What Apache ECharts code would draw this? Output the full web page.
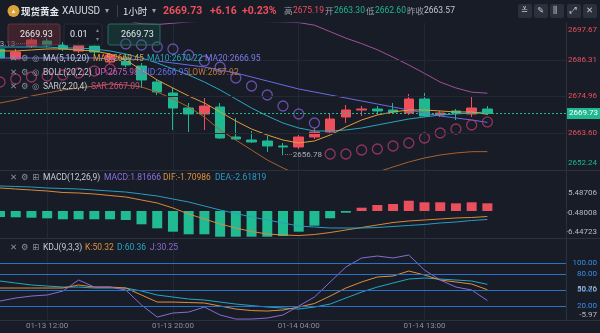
<!DOCTYPE html>
<html><head><meta charset="utf-8">
<script src="https://cdn.jsdelivr.net/npm/echarts@6/dist/echarts.min.js"></script>
<style>html,body{margin:0;padding:0;background:#171c27;}#c{width:600px;height:333px;}</style>
</head><body><div id="c"></div>
<script>
const categories = ['01-13 09:00','01-13 10:00','01-13 11:00','01-13 12:00','01-13 13:00','01-13 14:00','01-13 15:00','01-13 16:00','01-13 17:00','01-13 18:00','01-13 19:00','01-13 20:00','01-13 21:00','01-13 22:00','01-13 23:00','01-14 00:00','01-14 01:00','01-14 02:00','01-14 03:00','01-14 04:00','01-14 05:00','01-14 07:00','01-14 08:00','01-14 09:00','01-14 10:00','01-14 11:00','01-14 12:00','01-14 13:00','01-14 14:00','01-14 15:00','01-14 16:00','01-14 17:00','01-14 18:00','01-14 19:00','01-14 20:00','01-14 21:00','01-14 22:00'];
const xTickLabels = ['01-13 12:00','01-13 20:00','01-14 04:00','01-14 13:00'];

const opens  = [2689.64,2686.55,2690.56,2692.10,2690.87,2689.02,2690.56,2685.62,2686.85,2684.38,2679.44,2676.04,2671.40,2669.55,2671.71,2662.44,2661.51,2661.21,2659.66,2659.35,2662.44,2663.99,2668.62,2670.78,2671.09,2670.78,2669.86,2674.18,2669.24,2670.48,2669.55,2671.09];
const closes = [2686.85,2688.71,2692.41,2690.87,2689.64,2690.87,2688.71,2687.78,2684.69,2680.06,2676.35,2671.40,2669.55,2672.02,2662.13,2661.82,2660.90,2659.66,2659.35,2662.44,2663.99,2668.00,2670.78,2671.09,2670.48,2670.17,2674.18,2668.93,2669.86,2669.86,2671.40,2669.73];
const lows   = [2686.24,2685.93,2689.94,2690.25,2689.02,2688.40,2688.09,2685.00,2684.00,2677.58,2675.42,2664.60,2663.99,2664.60,2661.82,2661.51,2660.59,2657.81,2656.78,2658.73,2661.82,2663.68,2666.77,2668.93,2669.24,2669.55,2669.24,2668.62,2668.62,2667.69,2668.62,2669.24];
const highs  = [2690.56,2689.64,2693.13,2692.90,2691.80,2692.00,2691.50,2688.40,2687.78,2685.31,2680.36,2677.58,2672.95,2674.49,2672.95,2668.31,2664.30,2662.75,2660.59,2663.06,2665.22,2669.86,2672.33,2672.02,2672.02,2672.95,2675.73,2676.04,2670.48,2671.09,2674.80,2672.02];

const ma5  = [2689.02,2689.02,2689.33,2689.64,2689.64,2689.33,2689.02,2688.09,2686.24,2683.15,2680.06,2677.58,2675.11,2672.95,2670.17,2667.39,2664.91,2663.06,2661.51,2660.59,2661.21,2663.06,2665.53,2667.70,2669.24,2670.17,2670.79,2670.79,2670.48,2670.17,2670.17,2669.45];
const ma10 = [2690.25,2690.25,2690.25,2690.25,2689.94,2689.94,2689.64,2689.02,2688.09,2686.85,2685.31,2683.46,2681.60,2679.44,2676.97,2674.18,2671.40,2668.93,2666.77,2665.22,2664.30,2664.30,2664.61,2665.22,2666.15,2667.08,2668.00,2668.62,2669.24,2669.55,2669.86,2670.22];
const ma20 = [2686.85,2686.85,2686.85,2686.85,2686.85,2686.85,2686.85,2686.55,2686.55,2686.24,2685.93,2685.31,2684.69,2684.07,2683.15,2682.22,2680.98,2679.75,2678.51,2677.27,2676.35,2675.42,2674.49,2673.57,2672.64,2671.71,2670.79,2669.86,2668.93,2668.31,2667.70,2666.95];
const bollUp  = [2703.0,2703.2,2703.0,2702.6,2702.0,2701.4,2700.8,2700.2,2698.5,2697.4,2697.2,2697.6,2698.0,2698.2,2698.3,2698.3,2698.2,2698.1,2698.0,2697.8,2697.0,2695.0,2693.0,2691.3,2689.4,2687.1,2684.7,2682.1,2679.4,2677.6,2676.3,2675.98];
const bollLow = [2672.95,2673.88,2675.11,2676.04,2676.97,2677.58,2678.20,2678.82,2678.51,2677.89,2676.35,2674.18,2671.71,2668.62,2664.60,2661.51,2658.42,2655.33,2652.86,2650.70,2649.15,2648.54,2648.85,2649.77,2651.63,2653.17,2654.72,2655.95,2656.88,2657.50,2657.90,2657.92];
const sarBelow = [2679.44,2680.37,2680.98,2681.29,2681.60,2682.22,2682.84,2683.46,null,null,null,null,null,null,null,null,null,null,null,null,null,2657.19,2657.19,2658.42,2658.73,2659.66,2660.59,2662.13,2663.68,2664.91,2666.15,2667.09];
const sarAbove = [null,null,null,null,null,null,null,null,2691.20,2690.87,2690.25,2689.64,2687.78,2685.93,2684.07,2680.67,2678.20,2675.42,2672.02,2669.55,2666.77,null,null,null,null,null,null,null,null,null,null,null];

const macdHist = [-1.86,-1.95,-2.07,-2.26,-2.57,-2.57,-2.57,-2.57,-2.78,-4.11,-5.35,-6.40,-7.20,-7.20,-7.95,-7.95,-7.95,-7.95,-7.73,-6.40,-4.55,-2.26,-0.53,1.02,1.86,2.16,3.18,2.69,2.69,2.38,2.69,2.38];
const dif = [7.11,6.80,6.49,6.18,5.72,5.57,5.26,4.79,4.33,3.40,2.47,0.93,-0.93,-2.47,-4.02,-5.26,-6.34,-7.11,-7.42,-7.58,-7.27,-6.65,-5.88,-5.10,-4.33,-3.56,-3.09,-2.78,-2.47,-2.16,-2.01,-1.71];
const dea = [7.73,7.58,7.42,7.11,6.96,6.80,6.49,6.18,5.87,5.26,4.64,3.71,2.78,1.55,0.31,-0.77,-1.86,-2.78,-3.71,-4.64,-4.95,-5.26,-5.26,-5.26,-5.10,-4.79,-4.48,-4.17,-3.71,-3.40,-2.94,-2.62];

const kValues = [53.5,53.5,53.5,53.5,53.5,59.1,55.3,55.3,53.5,40.5,27.4,27.4,26.5,25.6,20.0,14.4,11.6,10.7,12.6,18.1,24.7,38.6,53.5,64.7,74.0,75.8,85.1,77.7,68.4,64.7,60.9,50.32];
const dValues = [66.5,62.8,59.1,57.2,55.3,55.3,53.5,53.5,53.5,47.9,40.5,36.7,33.0,31.2,27.4,23.7,20.9,18.1,16.3,14.4,18.1,23.7,34.9,46.0,55.3,62.8,70.2,72.1,70.2,68.4,66.5,60.36];
const jValues = [29.3,34.9,38.6,40.5,47.9,68.4,55.3,55.3,49.8,21.9,-0.5,7.0,8.8,18.1,3.3,-4.2,-4.2,-2.3,3.3,20.0,36.7,64.7,92.6,109.3,113.0,109.3,114.9,87.0,68.4,55.3,49.8,30.25];

const priceTicks = [2652.24,2663.60,2674.96,2686.31,2697.67];
const priceTickLabels = ['2652.24','2663.60','2674.96','2686.31','2697.67'];
const macdTicks = [-6.44723,-0.48008,5.48706];
const macdTickLabels = ['-6.44723','-0.48008','5.48706'];
const kdjTicks = [-5.97,20,50,50.76,80,100,100.49];
const kdjTickLabels = ['-5.97','20.00','50.00','50.76','80.00','100.00','100.49'];
const kdjLevels = [20,50,80,100];

const lastPrice = 2669.73, prevClose = 2663.57, lowMark = 2656.78, highMark = 2693.13;

const RED = '#ee4f5c', GREEN = '#1fb890', FONT = 'Roboto';
const candleData = opens.map((o,i) => [o, closes[i], lows[i], highs[i]]);

function priceLabel(v){
  const i = priceTicks.findIndex(t => Math.abs(t - v) < 1e-6);
  const up = v >= prevClose;
  let k = up ? 'r' : 'g';
  if (i === priceTicks.length - 1) k += 't';
  if (i === 0) k += 'b';
  return '{' + k + '|' + priceTickLabels[i] + '}';
}
function kdjLabel(v){
  const i = kdjTicks.findIndex(t => Math.abs(t - v) < 1e-6);
  let k = kdjLevels.indexOf(v) >= 0 ? 'bl' : 'gr';
  if (i === 0) k = 'grb';
  return '{' + k + '|' + kdjTickLabels[i] + '}';
}
const lab = (c, extra) => Object.assign({color:c, fontSize:8, fontFamily:FONT}, extra||{});

const grids = [
  {left:0, top:23, width:566, height:147},
  {left:0, top:172, width:566, height:66},
  {left:0, top:240, width:566, height:80}
];
const xAxes = [0,1,2].map(g => ({
  type:'category', gridIndex:g, data:categories, boundaryGap:false,
  axisLine:{show:false}, axisTick:{show:false},
  axisLabel: g===2 ? {show:true, interval:(i,v)=>xTickLabels.indexOf(v)>=0, color:'#8a8f9a', fontSize:8, fontFamily:FONT, margin:2} : {show:false},
  splitLine:{show:true, interval:(i,v)=>xTickLabels.indexOf(v)>=0, lineStyle:{color:'#222835', width:1}}
}));
const yAxes = [
  {type:'value', gridIndex:0, position:'right', min:2652.24, max:2697.67,
   axisLine:{show:false}, axisTick:{show:false, customValues:priceTicks}, splitLine:{show:false},
   axisLabel:{customValues:priceTicks, align:'right', margin:31, formatter:priceLabel,
     rich:{r:lab(RED), g:lab(GREEN), rt:lab(RED,{padding:[13,0,0,0]}), gt:lab(GREEN,{padding:[13,0,0,0]}), rb:lab(RED,{padding:[0,0,14,0]}), gb:lab(GREEN,{padding:[0,0,14,0]})}}},
  {type:'value', gridIndex:1, position:'right', min:-8.35, max:12.06,
   axisLine:{show:false}, axisTick:{show:false}, splitLine:{show:false},
   axisLabel:{customValues:macdTicks, align:'right', margin:31, color:'#b6bac4', fontSize:8, fontFamily:FONT,
     formatter:(v)=>macdTickLabels[macdTicks.findIndex(t=>Math.abs(t-v)<1e-6)]}},
  {type:'value', gridIndex:2, position:'right', min:-5.97, max:142.8,
   axisLine:{show:false}, axisTick:{show:false}, splitLine:{show:false},
   axisLabel:{customValues:kdjTicks, align:'right', margin:31, formatter:kdjLabel,
     rich:{bl:lab('#3a8ee6'), gr:lab('#b6bac4'), grb:lab('#b6bac4',{padding:[0,0,10,0]})}}}
];

const lineS = (name, data, color, xi, yi, z) => ({name, type:'line', data, xAxisIndex:xi, yAxisIndex:yi, symbol:'none', z:z||3,
  lineStyle:{color, width:1}, itemStyle:{color}, animation:false, silent:true});

const series = [
  {type:'line', data:[], xAxisIndex:0, yAxisIndex:0, z:1, silent:true,
   markLine:{silent:true, symbol:['none','none'], animation:false, label:{show:false},
     lineStyle:{color:'#222835', type:'solid', width:1},
     data: priceTicks.slice(1,-1).map(v=>({yAxis:v}))}},
  {type:'line', data:[], xAxisIndex:2, yAxisIndex:2, z:1, silent:true,
   markLine:{silent:true, symbol:['none','none'], animation:false, label:{show:false},
     lineStyle:{color:'#2a72c6', type:'solid', width:1},
     data: kdjLevels.map(v=>({yAxis:v}))}},
  {name:'K', type:'candlestick', data:candleData, xAxisIndex:0, yAxisIndex:0, barWidth:10, z:2, animation:false, silent:true,
   itemStyle:{color:RED, color0:GREEN, borderColor:RED, borderColor0:GREEN, borderWidth:1},
   markLine:{silent:true, symbol:['none','none'], animation:false,
     data:[{yAxis:lastPrice, lineStyle:{color:GREEN, type:[2,2], width:1},
       label:{show:true, position:'end', distance:1, formatter:lastPrice.toFixed(2), color:'#ffffff', backgroundColor:GREEN, padding:[2,2,1,2], fontSize:8, fontFamily:FONT}}]},
   markPoint:{silent:true, symbol:'circle', symbolSize:1, itemStyle:{color:'rgba(0,0,0,0)'}, animation:false,
     data:[
       {coord:[18, lowMark], label:{show:true, position:'right', distance:1, formatter:'····'+lowMark.toFixed(2), color:'#a9adb6', fontSize:8, fontFamily:FONT}},
       {coord:[2, highMark], label:{show:true, position:'left', distance:1, offset:[0,6], formatter:highMark.toFixed(2)+'·······', color:'#a9adb6', fontSize:8, fontFamily:FONT}}
     ]}},
  lineS('BOLL LOW', bollLow, '#a8622c', 0, 0),
  lineS('BOLL UP', bollUp, '#a4509c', 0, 0),
  lineS('MA20', ma20, '#6b6ce2', 0, 0),
  lineS('MA10', ma10, '#2aa6bf', 0, 0),
  lineS('MA5', ma5, '#e39d3a', 0, 0),
  {type:'scatter', data:sarAbove, xAxisIndex:0, yAxisIndex:0, symbol:'circle', symbolSize:10, z:4, silent:true, animation:false,
   itemStyle:{color:'rgba(0,0,0,0)', borderColor:'#7a5cc8', borderWidth:1.3}},
  {type:'scatter', data:sarBelow, xAxisIndex:0, yAxisIndex:0, symbol:'circle', symbolSize:10, z:4, silent:true, animation:false,
   itemStyle:{color:'rgba(0,0,0,0)', borderColor:'#b23a6b', borderWidth:1.3}},
  {type:'bar', data:macdHist, xAxisIndex:1, yAxisIndex:1, barWidth:10, z:2, silent:true, animation:false,
   itemStyle:{color:(p)=>p.value>=0 ? '#e94f5c' : '#20bb93'}},
  lineS('DIF', dif, '#d98a3a', 1, 1),
  lineS('DEA', dea, '#2a9cc0', 1, 1),
  lineS('D', dValues, '#26a6c4', 2, 2),
  lineS('K', kValues, '#e0903a', 2, 2),
  lineS('J', jValues, '#8c6ad6', 2, 2)
];

const G = [];
function T(x, y, text, color, size, weight, font){
  G.push({type:'text', x, y, z:100, silent:true,
    style:{text, fill:color, fontSize:size||8.5, fontWeight:weight||'normal', fontFamily:font||FONT, verticalAlign:'middle', align:'left'}});
}
function R(x, y, w, h, fill, stroke, r){
  G.push({type:'rect', z:90, silent:true, shape:{x, y, width:w, height:h, r:r||0}, style:{fill, stroke:stroke||null, lineWidth:1}});
}
function L(x1, y1, x2, y2, color){
  G.push({type:'line', z:95, silent:true, shape:{x1, y1, x2, y2}, style:{stroke:color, lineWidth:1}});
}
// separators
L(0,170.5,600,170.5,'#2a303d'); L(0,238.5,600,238.5,'#2a303d'); L(0,320.5,600,320.5,'#2a303d');
L(566.5,22,566.5,321,'#2a303d');
// header
G.push({type:'circle', z:100, silent:true, shape:{cx:13.5, cy:11, r:6}, style:{fill:'#d9a23a'}});
T(10.5, 11, '▲', '#fff4d6', 6);
T(21, 11, '现货黄金', '#e8eaf0', 9.5, 'bold', 'Noto Sans CJK SC');
T(62, 11, 'XAUUSD', '#d6d9e0', 10);
T(105, 11, '▾', '#9aa0aa', 8);
L(117.5, 5, 117.5, 17, '#3a4150');
T(123, 11, '1小时', '#e0e3ea', 9.5, 'normal', 'Noto Sans CJK SC');
T(152, 11, '▾', '#9aa0aa', 8);
T(163, 11, '2669.73', RED, 10.5, 'bold');
T(210, 11, '+6.16', RED, 10.5, 'bold');
T(242, 11, '+0.23%', RED, 10.5, 'bold');
T(284, 11, '高', '#9aa0aa', 8.5, 'normal', 'Noto Sans CJK SC');
T(293, 11, '2675.19', RED, 8.5);
T(325, 11, '开', '#9aa0aa', 8.5, 'normal', 'Noto Sans CJK SC');
T(334, 11, '2663.30', GREEN, 8.5);
T(366, 11, '低', '#9aa0aa', 8.5, 'normal', 'Noto Sans CJK SC');
T(375, 11, '2662.60', GREEN, 8.5);
T(407, 11, '昨收', '#9aa0aa', 8.5, 'normal', 'Noto Sans CJK SC');
T(424, 11, '2663.57', '#c4c8d0', 8.5);
const btnX = [518, 534, 550, 567, 583];
const btnIcons = ['≚', '✎', '⫼', '⤢', '✕'];
btnX.forEach((x,i) => { R(x, 4, 14, 14, '#2a303c', null, 2); T(x+3, 11, btnIcons[i], '#c4c8d0', 8.5, 'normal', 'DejaVu Sans'); });
// trading widgets
R(8, 24, 52, 21, 'rgba(110,42,52,0.45)', '#5c3540', 2);
T(20, 35, '2669.93', '#e6e8ee', 9);
R(64, 24, 38, 21, 'rgba(22,26,36,0.85)', '#262b37', 2);
T(70, 35, '0.01', '#e6e8ee', 9);
T(95.5, 30, '▴', '#7d828d', 6); T(95.5, 39, '▾', '#7d828d', 6);
R(108, 24, 52, 21, 'rgba(24,90,74,0.35)', '#2a6a5c', 2);
T(121, 35, '2669.73', '#e6e8ee', 9);
// legends
function icons(y, third){ T(10, y, '✕', '#8b909c', 8.5, 'normal', 'DejaVu Sans'); T(21, y, '⚙', '#8b909c', 8.5, 'normal', 'DejaVu Sans'); T(32, y, third, '#8b909c', 8.5, 'normal', 'DejaVu Sans'); }
icons(58.5, '◎');
T(43, 58.5, 'MA(5,10,20)', '#c8cbd3'); T(93, 58.5, 'MA5:2669.45', '#e39d3a'); T(147, 58.5, 'MA10:2670.22', '#2aa6bf'); T(205, 58.5, 'MA20:2666.95', '#7b7be8');
icons(72.5, '◎');
T(43, 72.5, 'BOLL(20,2,2)', '#c8cbd3'); T(95, 72.5, 'UP:2675.98', '#c063b8'); T(140, 72.5, 'MID:2666.95', '#6d6ee6'); T(188, 72.5, 'LOW:2657.92', '#c07a3a');
icons(86.5, '◎');
T(43, 86.5, 'SAR(2,20,4)', '#c8cbd3'); T(91, 86.5, 'SAR:2667.09', '#d04a84');
icons(178, '⊞');
T(43, 178, 'MACD(12,26,9)', '#c8cbd3'); T(104, 178, 'MACD:1.81666', '#8b6fe0'); T(163, 178, 'DIF:-1.70986', '#e0903a'); T(215, 178, 'DEA:-2.61819', '#2a9cc8');
icons(247.5, '⊞');
T(43, 247.5, 'KDJ(9,3,3)', '#c8cbd3'); T(85, 247.5, 'K:50.32', '#e0903a'); T(117, 247.5, 'D:60.36', '#26a6c4'); T(150, 247.5, 'J:30.25', '#8c6ad6');

const chart = echarts.init(document.getElementById('c'), null, {renderer:'canvas', width:600, height:333});
chart.setOption({
  backgroundColor:'#171c27', animation:false,
  grid:grids, xAxis:xAxes, yAxis:yAxes, series, graphic:{elements:G}
});
</script></body></html>
